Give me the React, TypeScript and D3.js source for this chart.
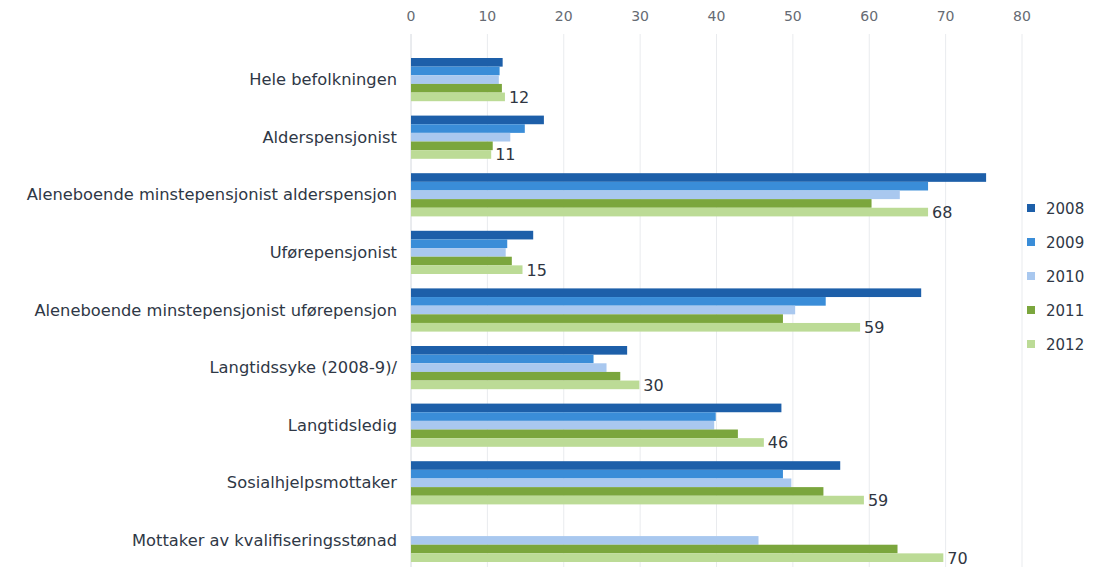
import React from 'react';
import { scaleLinear, scaleBand } from 'd3';

const categories = [
  'Hele befolkningen',
  'Alderspensjonist',
  'Aleneboende minstepensjonist alderspensjon',
  'Uførepensjonist',
  'Aleneboende minstepensjonist uførepensjon',
  'Langtidssyke (2008-9)/',
  'Langtidsledig',
  'Sosialhjelpsmottaker',
  'Mottaker av kvalifiseringsstønad',
];

const years = ['2008', '2009', '2010', '2011', '2012'];

const v2008 = [12.0, 17.4, 75.3, 16.0, 66.8, 28.3, 48.5, 56.2, null];
const v2009 = [11.6, 14.9, 67.7, 12.6, 54.3, 23.9, 39.9, 48.7, null];
const v2010 = [11.5, 13.0, 64.0, 12.4, 50.3, 25.6, 39.7, 49.8, 45.5];
const v2011 = [11.9, 10.7, 60.3, 13.2, 48.7, 27.4, 42.8, 54.0, 63.7];
const v2012 = [12.3, 10.5, 67.7, 14.6, 58.8, 29.9, 46.2, 59.3, 69.7];

const labels2012 = ['12', '11', '68', '15', '59', '30', '46', '59', '70'];

const xTicks = [0, 10, 20, 30, 40, 50, 60, 70, 80];

const colors = ['#1d5fa9', '#3a8dd8', '#a9c8ef', '#7ba63d', '#bcdb96'];

const series = [v2008, v2009, v2010, v2011, v2012];

const font = '"DejaVu Sans", Verdana, sans-serif';

export default function App() {
  const width = 1095;
  const height = 567;

  const x = scaleLinear().domain([0, 80]).range([411, 1022]);
  const y = scaleBand().domain(categories).range([50.8, 569.2]).paddingInner(0.25).paddingOuter(0.125);
  const sub = scaleBand().domain(years).range([0, y.bandwidth()]);
  const legendY = scaleBand().domain(years).range([192, 362]);

  return (
    <svg width={width} height={height} style={{ position: 'absolute', left: 0, top: 0, background: '#fff' }}>
      {/* grid */}
      {xTicks.map((t) => (
        <g key={t}>
          <line x1={x(t)} x2={x(t)} y1={34} y2={height} stroke={t === 0 ? '#d4d8de' : '#e9ebee'} strokeWidth={1} />
          <text x={x(t)} y={21} textAnchor="middle" fontFamily={font} fontSize={14} fill="#666b73">
            {t}
          </text>
        </g>
      ))}

      {/* bars */}
      {categories.map((c, i) => (
        <g key={c} transform={`translate(0,${y(c)})`}>
          {series.map((s, j) => {
            const v = s[i];
            if (v == null) return null;
            return (
              <rect
                key={j}
                x={x(0)}
                y={sub(years[j])}
                width={x(v) - x(0)}
                height={sub.bandwidth()}
                fill={colors[j]}
              />
            );
          })}
          <text
            x={x(v2012[i]) + 4}
            y={(sub(years[4]) || 0) + sub.bandwidth() / 2 + 6}
            fontFamily={font}
            fontSize={16}
            fill="#2f3642"
          >
            {labels2012[i]}
          </text>
          <text
            x={397}
            y={y.bandwidth() / 2}
            dy="0.35em"
            textAnchor="end"
            fontFamily={font}
            fontSize={16.3}
            fill="#2f3846"
          >
            {c}
          </text>
        </g>
      ))}

      {/* legend */}
      {years.map((yr, j) => {
        const cy = (legendY(yr) || 0) + legendY.bandwidth() / 2;
        return (
          <g key={yr}>
            <rect x={1027} y={cy - 5} width={8} height={8} fill={colors[j]} />
            <text x={1046} y={cy} dy="0.35em" fontFamily={font} fontSize={15} fill="#2f3846">
              {yr}
            </text>
          </g>
        );
      })}
    </svg>
  );
}
